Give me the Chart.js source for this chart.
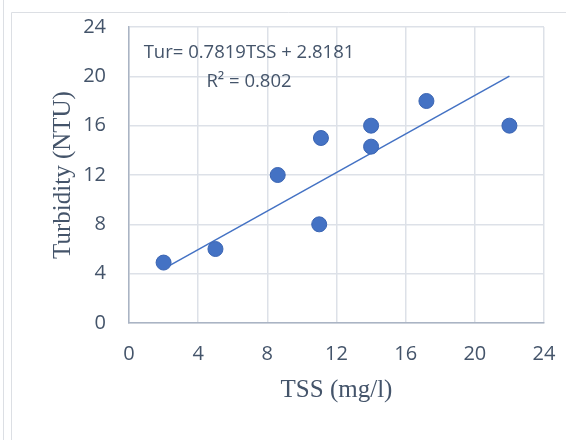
<!DOCTYPE html>
<html>
<head>
<meta charset="utf-8">
<script src="https://cdn.jsdelivr.net/npm/chart.js@4.4.1/dist/chart.umd.min.js"></script>
<style>
  html, body { margin: 0; padding: 0; background: #fff; }
  #wrap { width: 566px; height: 440px; position: relative; }
</style>
</head>
<body>
<div id="wrap"><canvas id="tssChart" width="566" height="440"></canvas></div>
<script>
// TSS vs turbidity samples
const tssValues = [2, 5, 8.6, 11.1, 11, 14, 14, 17.2, 22];
const turbidityValues = [4.9, 6, 12, 15, 8, 16, 14.3, 18, 16];
const axisTicks = [0, 4, 8, 12, 16, 20, 24];

// linear trendline as given in the equation label
const slope = 0.7819;
const intercept = 2.8181;
const rSquared = 0.802;

const textColor = '#44546a';
const blue = '#4472c4';

const points = tssValues.map((x, i) => ({ x: x, y: turbidityValues[i] }));
const xMin = Math.min(...tssValues);
const xMax = Math.max(...tssValues);
const trend = [xMin, xMax].map(x => ({ x: x, y: slope * x + intercept }));

// background frame + equation text
const framePlugin = {
  id: 'frame',
  beforeDraw(chart) {
    const c = chart.ctx;
    c.save();
    c.fillStyle = '#fff';
    c.fillRect(0, 0, chart.width, chart.height);
    c.strokeStyle = '#dcdfe4';
    c.lineWidth = 1;
    c.beginPath();
    c.moveTo(3.5, 0);
    c.lineTo(3.5, chart.height);
    c.moveTo(11.5, chart.height);
    c.lineTo(11.5, 12.5);
    c.lineTo(chart.width, 12.5);
    c.stroke();
    c.restore();
  },
  afterDatasetsDraw(chart) {
    const c = chart.ctx;
    const a = chart.chartArea;
    c.save();
    c.fillStyle = textColor;
    c.font = '18.5px "Open Sans"';
    c.textAlign = 'center';
    c.textBaseline = 'middle';
    const cx = a.left + 120;
    c.fillText('Tur= ' + slope + 'TSS + ' + intercept, cx, a.top + 26);
    c.fillText('R² = ' + rSquared, cx, a.top + 55);
    c.restore();
  }
};

const tickFont = { family: 'Open Sans', size: 20 };
const titleFont = { family: 'Liberation Serif', size: 25 };

new Chart(document.getElementById('tssChart'), {
  type: 'scatter',
  data: {
    datasets: [
      {
        data: points,
        backgroundColor: blue,
        borderColor: '#3b65b3',
        borderWidth: 1,
        pointRadius: 7.5,
        order: 1
      },
      {
        type: 'line',
        data: trend,
        borderColor: blue,
        borderWidth: 1.5,
        pointRadius: 0,
        fill: false,
        order: 2
      }
    ]
  },
  options: {
    responsive: false,
    animation: false,
    events: [],
    layout: { padding: { top: 27, right: 22, left: 48, bottom: 0 } },
    plugins: { legend: { display: false }, tooltip: { enabled: false } },
    scales: {
      x: {
        type: 'linear',
        min: 0, max: 24,
        afterBuildTicks(s) { s.ticks = axisTicks.map(v => ({ value: v })); },
        afterFit(s) { s.height = 117; s.paddingLeft = 0; s.paddingRight = 0; },
        grid: { color: '#dde1e8', lineWidth: 1.5, drawTicks: false },
        border: { color: '#aab4c4', width: 1.5 },
        ticks: { color: textColor, font: tickFont, padding: 19 },
        title: {
          display: true,
          text: 'TSS (mg/l)',
          color: textColor,
          font: titleFont,
          padding: { top: 0, bottom: 35 }
        }
      },
      y: {
        type: 'linear',
        min: 0, max: 24,
        afterBuildTicks(s) { s.ticks = axisTicks.map(v => ({ value: v })); },
        afterFit(s) { s.width = 81; s.paddingTop = 0; s.paddingBottom = 0; },
        grid: { color: '#dde1e8', lineWidth: 1.5, drawTicks: false },
        border: { color: '#aab4c4', width: 1.5 },
        ticks: { color: textColor, font: tickFont, padding: 23 },
        title: {
          display: true,
          text: 'Turbidity (NTU)',
          color: textColor,
          font: titleFont,
          padding: { top: 0, bottom: 0 }
        }
      }
    }
  },
  plugins: [framePlugin]
});
</script>
</body>
</html>
